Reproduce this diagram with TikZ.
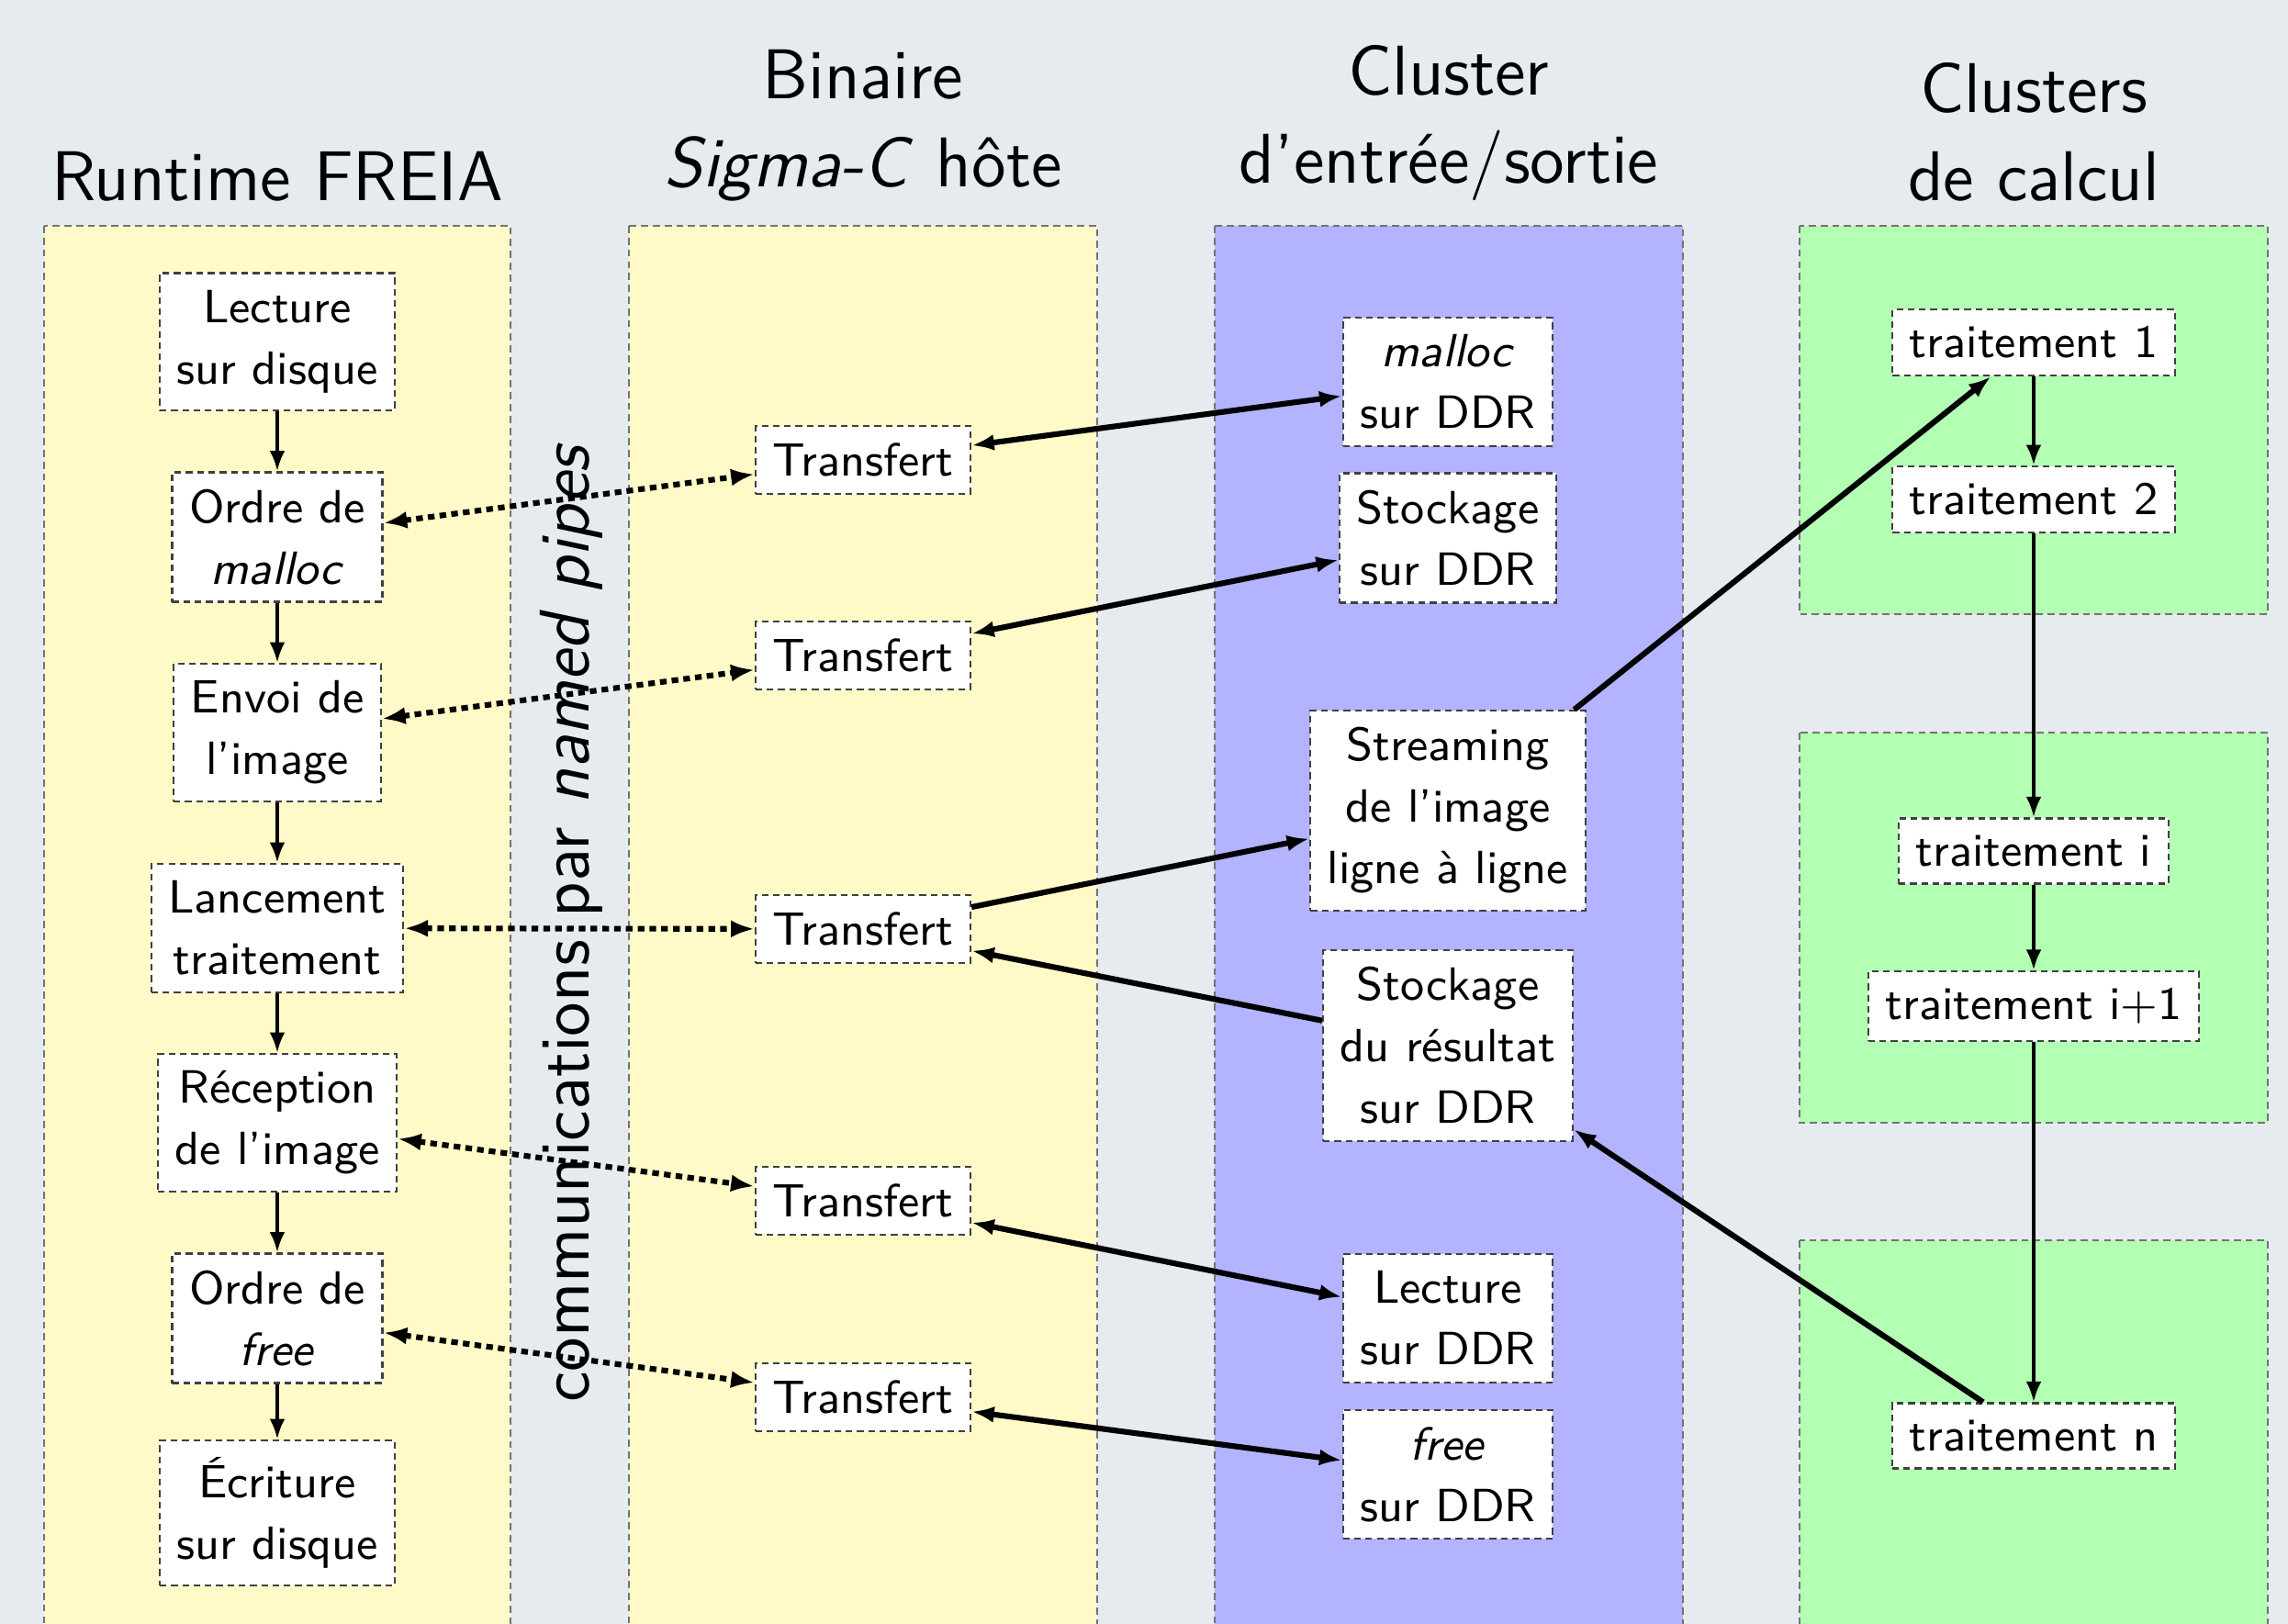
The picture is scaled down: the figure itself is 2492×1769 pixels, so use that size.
\documentclass[tikz,border=0pt]{standalone}
\usetikzlibrary{arrows.meta}
\definecolor{bgc}{RGB}{230,235,240}
\definecolor{yel}{RGB}{255,250,200}
\definecolor{blu}{RGB}{179,179,255}
\definecolor{grn}{RGB}{179,255,179}
\newcommand{\bodyfont}{\sffamily\fontsize{9.1}{12}\selectfont}
\newcommand{\headfont}{\sffamily\fontsize{13.75}{17.2}\selectfont}
\begin{document}
\begin{tikzpicture}[x=0.1792pt,y=-0.1792pt,font=\bodyfont,
  >={Latex[length=4pt,width=3pt]},
  box/.style={draw=black!75,dash pattern=on 1.3pt off 0.9pt,line width=0.4pt,fill=white,align=center,inner sep=3.33pt},
  lane/.style={draw=black!55,dash pattern=on 1.4pt off 0.9pt,line width=0.4pt},
  title/.style={font=\headfont,align=center,anchor=south,inner sep=0pt},
  flow/.style={->,line width=0.7pt},
  link/.style={line width=1.1pt,>={Latex[length=4.4pt,width=3.2pt]}},
  pipe/.style={<->,line width=1.1pt,dash pattern=on 1.3pt off 1pt,>={Latex[length=4.6pt,width=3.4pt]}}]
\useasboundingbox (0,0) rectangle (2492,1769);
\clip (0,0) rectangle (2492,1769);
\fill[bgc] (0,0) rectangle (2492,1769);
% lanes
\filldraw[lane,fill=yel] (48,246) rectangle (556,1800);
\filldraw[lane,fill=yel] (685,246) rectangle (1195,1800);
\filldraw[lane,fill=blu] (1323,246) rectangle (1833,1800);
\filldraw[lane,fill=grn] (1960,246) rectangle (2470,669);
\filldraw[lane,fill=grn] (1960,798) rectangle (2470,1223);
\filldraw[lane,fill=grn] (1960,1351) rectangle (2470,1800);
% titles
\node[title] (h1) at (302,220) {Runtime FREIA};
\node[title] (h2) at (940,220) {Binaire\\\textit{Sigma-C} hôte};
\node[title] (h3) at (1578,220) {Cluster\\d’entrée/sortie};
\node[title] (h4) at (2215,220) {Clusters\\de calcul};
% rotated label
\node[rotate=90,anchor=base,font=\headfont,inner sep=0pt] (comm) at (641,1005) {communications par \textit{named pipes}};
% lane 1
\node[box] (L1) at (302,372) {Lecture\\sur disque};
\node[box] (L2) at (302,585) {Ordre de\\\textit{malloc}};
\node[box] (L3) at (302,798) {Envoi de\\l’image};
\node[box] (L4) at (302,1011) {Lancement\\traitement};
\node[box] (L5) at (302,1223) {Réception\\de l’image};
\node[box] (L6) at (302,1436) {Ordre de\\\textit{free}};
\node[box] (L7) at (302,1648) {Écriture\\sur disque};
% lane 2
\node[box] (T1) at (940,501) {Transfert};
\node[box] (T2) at (940,714) {Transfert};
\node[box] (T3) at (940,1012) {Transfert};
\node[box] (T4) at (940,1308) {Transfert};
\node[box] (T5) at (940,1522) {Transfert};
% lane 3
\node[box] (B1) at (1577,416) {\textit{malloc}\\sur DDR};
\node[box] (B2) at (1577,586) {Stockage\\sur DDR};
\node[box] (B3) at (1577,883) {Streaming\\de l’image\\ligne à ligne};
\node[box] (B4) at (1577,1139) {Stockage\\du résultat\\sur DDR};
\node[box] (B5) at (1577,1436) {Lecture\\sur DDR};
\node[box] (B6) at (1577,1606) {\textit{free}\\sur DDR};
% lane 4
\node[box] (t1) at (2215,373) {traitement 1};
\node[box] (t2) at (2215,544) {traitement 2};
\node[box] (ti) at (2215,927) {traitement i};
\node[box] (ti1) at (2215,1096) {traitement i+1};
\node[box] (tn) at (2215,1564) {traitement n};
% flows
\draw[flow] (L1) -- (L2);
\draw[flow] (L2) -- (L3);
\draw[flow] (L3) -- (L4);
\draw[flow] (L4) -- (L5);
\draw[flow] (L5) -- (L6);
\draw[flow] (L6) -- (L7);
\draw[flow] (t1) -- (t2);
\draw[flow] (t2) -- (ti);
\draw[flow] (ti) -- (ti1);
\draw[flow] (ti1) -- (tn);
% pipes
\draw[pipe] (L2) -- (T1);
\draw[pipe] (L3) -- (T2);
\draw[pipe] (L4) -- (T3);
\draw[pipe] (L5) -- (T4);
\draw[pipe] (L6) -- (T5);
% links
\draw[link,<->] (T1) -- (B1);
\draw[link,<->] (T2) -- (B2);
\draw[link,->] (T3) -- (B3);
\draw[link,->] (B4) -- (T3);
\draw[link,<->] (T4) -- (B5);
\draw[link,<->] (T5) -- (B6);
\draw[link,->] (B3) -- (t1);
\draw[link,->] (tn) -- (B4);
\end{tikzpicture}
\end{document}
